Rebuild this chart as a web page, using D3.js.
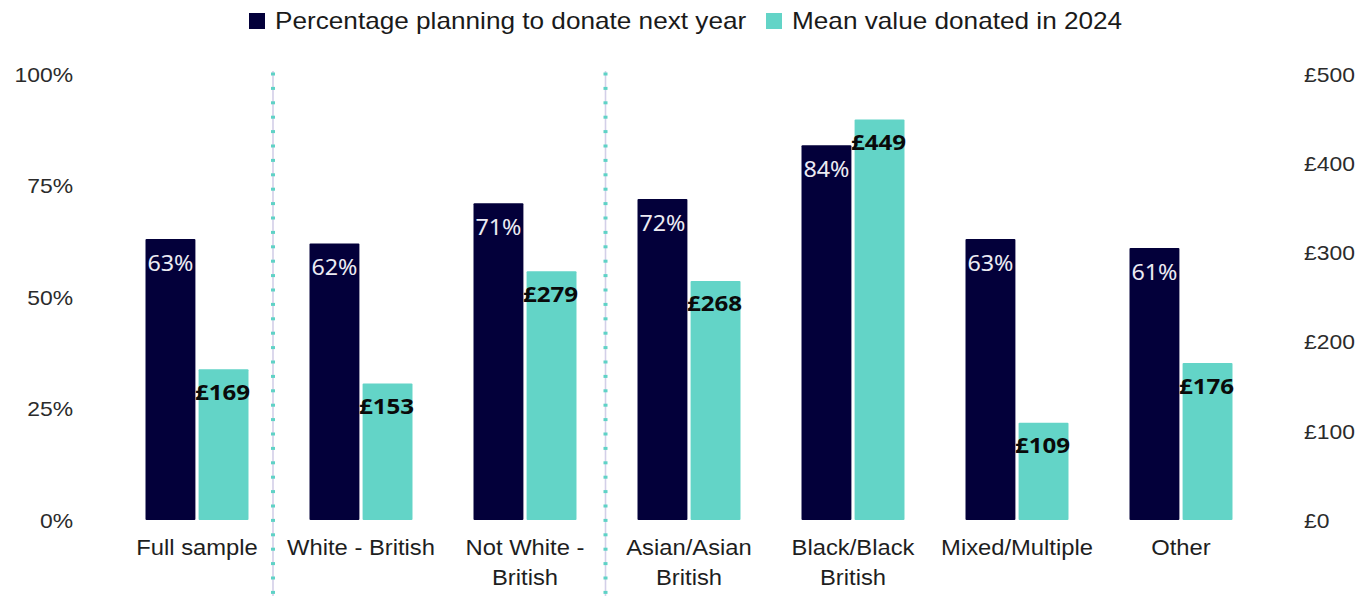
<!DOCTYPE html>
<html>
<head>
<meta charset="utf-8">
<script src="https://cdn.jsdelivr.net/npm/d3@7"></script>
<style>
  html, body { margin: 0; padding: 0; background: #ffffff; }
  svg { display: block; }
</style>
</head>
<body>
<svg id="chart" width="1363" height="596"></svg>
<script>
// Donation intentions and mean gift by ethnic group
const categories = ["Full sample", "White - British", "Not White - British", "Asian/Asian British", "Black/Black British", "Mixed/Multiple", "Other"];
const categoryLines = [["Full sample"], ["White - British"], ["Not White -", "British"], ["Asian/Asian", "British"], ["Black/Black", "British"], ["Mixed/Multiple"], ["Other"]];
const pctPlanning = [63, 62, 71, 72, 84, 63, 61];
const meanDonated = [169, 153, 279, 268, 449, 109, 176];
const seriesNames = ["Percentage planning to donate next year", "Mean value donated in 2024"];
const leftTicks = [0, 25, 50, 75, 100];
const rightTicks = [0, 100, 200, 300, 400, 500];
// dotted dividers are drawn before these categories
const dividerBefore = ["White - British", "Asian/Asian British"];

const colDark = "#03003a";
const colTeal = "#63d4c7";
const labelFont = "'Liberation Sans', Arial, sans-serif";
const valueFont = "'Noto Sans', 'Open Sans', sans-serif";

const svg = d3.select("#chart");
const plotTop = 74, plotBottom = 520;

// widen text horizontally a little without changing its height
function stretch(sel, k) {
  sel.each(function () {
    const w = this.getComputedTextLength();
    d3.select(this).attr("textLength", w * k).attr("lengthAdjust", "spacingAndGlyphs");
  });
}

const x = d3.scaleBand().domain(categories).range([115, 1263]).paddingInner(0.372).paddingOuter(0.186);
const xs = d3.scaleBand().domain(seriesNames).range([0, x.bandwidth()]).paddingInner(0.06).paddingOuter(0);
const yL = d3.scaleLinear().domain([0, 100]).range([plotBottom, plotTop]);
const yR = d3.scaleLinear().domain([0, 500]).range([plotBottom, plotTop]);

// axes (labels only)
const leftAxis = svg.append("g").attr("transform", "translate(73,0)")
  .call(d3.axisLeft(yL).tickValues(leftTicks).tickFormat(d => d + "%").tickSize(0).tickPadding(0));
const rightAxis = svg.append("g").attr("transform", "translate(1304,0)")
  .call(d3.axisRight(yR).tickValues(rightTicks).tickFormat(d => "£" + d).tickSize(0).tickPadding(0));
[leftAxis, rightAxis].forEach(a => {
  a.select(".domain").remove();
  const t = a.selectAll("text").attr("font-family", labelFont).attr("font-size", 21).attr("fill", "#2b2b2b").attr("dy", "0.35em");
  stretch(t, 1.09);
});

// dotted dividers
const gap = x.step() - x.bandwidth();
dividerBefore.forEach((c, i) => {
  const xx = x(c) - gap / 2 - (i === 0 ? 6 : 1.5);
  const g = svg.append("g");
  g.append("line").attr("x1", xx).attr("x2", xx).attr("y1", 71).attr("y2", 596)
    .attr("stroke", "#d3cfe8").attr("stroke-width", 1.6);
  const dots = d3.range(74, 596, 14.4);
  g.selectAll("rect").data(dots).join("rect")
    .attr("x", xx - 2).attr("y", d => d - 1.5).attr("width", 4).attr("height", 3)
    .attr("fill", "#5fd2c6");
});

// bars
const groups = svg.append("g").selectAll("g").data(categories).join("g")
  .attr("transform", d => `translate(${x(d)},0)`);

groups.append("rect")
  .attr("x", xs(seriesNames[0])).attr("width", xs.bandwidth())
  .attr("y", (d, i) => yL(pctPlanning[i])).attr("height", (d, i) => plotBottom - yL(pctPlanning[i]))
  .attr("fill", colDark).attr("rx", 1);

groups.append("rect")
  .attr("x", xs(seriesNames[1])).attr("width", xs.bandwidth())
  .attr("y", (d, i) => yR(meanDonated[i])).attr("height", (d, i) => plotBottom - yR(meanDonated[i]))
  .attr("fill", colTeal).attr("rx", 1);

// value labels
const pctLabels = groups.append("text")
  .attr("x", xs(seriesNames[0]) + xs.bandwidth() / 2)
  .attr("y", (d, i) => yL(pctPlanning[i]) + 24)
  .attr("dy", "0.35em").attr("text-anchor", "middle")
  .attr("font-family", valueFont).attr("font-size", 22).attr("fill", "#ecebf3")
  .text((d, i) => pctPlanning[i] + "%");
stretch(pctLabels, 1.06);

const gbpLabels = groups.append("text")
  .attr("x", xs(seriesNames[1]) + xs.bandwidth() / 2 - 1)
  .attr("y", (d, i) => yR(meanDonated[i]) + 23)
  .attr("dy", "0.35em").attr("text-anchor", "middle")
  .attr("font-family", valueFont).attr("font-size", 21.5).attr("font-weight", "bold").attr("fill", "#0a0a0a")
  .text((d, i) => "£" + meanDonated[i]);
stretch(gbpLabels, 1.12);

// category labels
const catTspans = groups.append("text")
  .attr("x", x.bandwidth() / 2).attr("y", 547)
  .attr("text-anchor", "middle").attr("font-family", labelFont).attr("font-size", 22).attr("fill", "#1e1e1e")
  .selectAll("tspan").data((d, i) => categoryLines[i]).join("tspan")
  .attr("x", x.bandwidth() / 2).attr("dy", (d, j) => j === 0 ? "0.35em" : 30)
  .text(d => d);
stretch(catTspans, 1.08);

// legend
const legend = svg.append("g");
const legendItems = [
  { name: seriesNames[0], color: colDark, x: 249 },
  { name: seriesNames[1], color: colTeal, x: 766 }
];
legendItems.forEach(it => {
  legend.append("rect").attr("x", it.x).attr("y", 13).attr("width", 16).attr("height", 16).attr("fill", it.color);
  const t = legend.append("text").attr("x", it.x + 26).attr("y", 21).attr("dy", "0.35em")
    .attr("font-family", labelFont).attr("font-size", 24).attr("fill", "#1a1a1a").text(it.name);
  stretch(t, 1.09);
});
</script>
</body>
</html>
